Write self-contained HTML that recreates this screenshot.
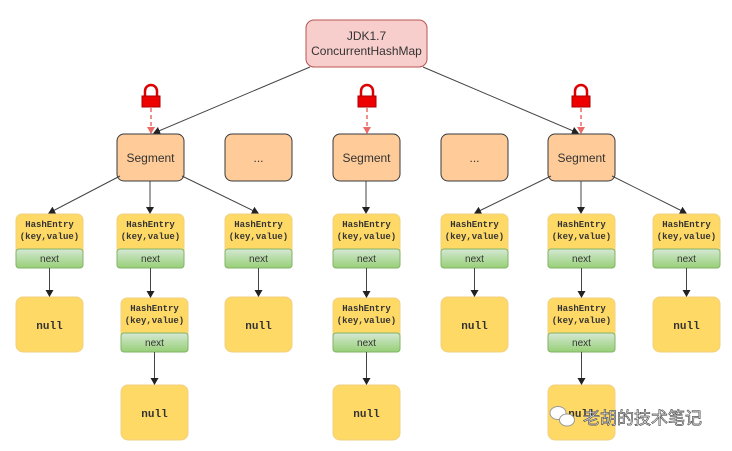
<!DOCTYPE html>
<html><head><meta charset="utf-8"><style>
html,body{margin:0;padding:0;background:#fff}
svg{display:block}
.t{font-family:"Liberation Sans",sans-serif;fill:#333}
.m{font-family:"Liberation Mono","DejaVu Sans Mono",monospace;font-weight:bold;fill:#333}
</style></head><body>
<svg width="732" height="451" viewBox="0 0 732 451" xmlns="http://www.w3.org/2000/svg">
<defs>
<marker id="a" markerWidth="8" markerHeight="8" refX="6" refY="4" orient="auto" markerUnits="userSpaceOnUse"><path d="M0,0 L7,4 L0,8 Z" fill="#222"/></marker>
<marker id="r" markerWidth="8" markerHeight="8" refX="6" refY="4" orient="auto" markerUnits="userSpaceOnUse"><path d="M0,0 L7,4 L0,8 Z" fill="#ea6b66"/></marker>
<linearGradient id="g" x1="0" y1="0" x2="0" y2="1"><stop offset="0" stop-color="#d5e8d4"/><stop offset="1" stop-color="#97d077"/></linearGradient>
<g id="lock"><path d="M-6,8 V3 A6,6 0 0 1 6,3 V8" fill="none" stroke="#d00" stroke-width="2.5"/><rect x="-9" y="8" width="18" height="11" fill="#e00" stroke="#a00"/></g>
<g id="he"><rect width="67" height="54" rx="6" fill="#ffd966" stroke="#f0d080"/><rect y="35" width="67" height="19" rx="3" fill="url(#g)" stroke="#82b366"/><text class="m" x="33.5" y="13" font-size="9" text-anchor="middle">HashEntry</text><text class="m" x="33.5" y="25" font-size="9" text-anchor="middle">(key,value)</text><text class="t" x="33.5" y="48" font-size="10" text-anchor="middle">next</text></g>
</defs>
<rect x="306" y="20" width="121" height="47" rx="8" fill="#f8cecc" stroke="#b85450"/>
<text class="t" x="366.5" y="40" font-size="12" text-anchor="middle">JDK1.7</text>
<text class="t" x="366.5" y="55" font-size="12" text-anchor="middle">ConcurrentHashMap</text>
<line x1="310" y1="67" x2="154" y2="133" stroke="#444" marker-end="url(#a)"/>
<line x1="423" y1="67" x2="578" y2="133" stroke="#444" marker-end="url(#a)"/>
<use href="#lock" x="151" y="88"/><use href="#lock" x="367" y="88"/><use href="#lock" x="581" y="88"/>
<g stroke="#ea6b66" stroke-dasharray="4,3" stroke-width="1.5" marker-end="url(#r)">
<line x1="151" y1="108" x2="151" y2="133"/><line x1="367" y1="108" x2="367" y2="133"/><line x1="581" y1="108" x2="581" y2="133"/></g>
<g fill="#ffcc99" stroke="#36393d">
<rect x="117" y="134" width="67" height="47" rx="7"/><rect x="225" y="134" width="67" height="47" rx="7"/>
<rect x="333" y="134" width="67" height="47" rx="7"/><rect x="441" y="134" width="67" height="47" rx="7"/>
<rect x="548" y="134" width="67" height="47" rx="7"/></g>
<g class="t" font-size="12" text-anchor="middle">
<text x="150.5" y="162">Segment</text><text x="258.5" y="162">...</text><text x="366.5" y="162">Segment</text><text x="474.5" y="162">...</text><text x="581.5" y="162">Segment</text></g>
<g stroke="#444" marker-end="url(#a)">
<line x1="120" y1="176" x2="49" y2="213"/><line x1="150" y1="181" x2="150" y2="213"/><line x1="182" y1="176" x2="258" y2="213"/>
<line x1="366" y1="181" x2="366" y2="213"/>
<line x1="551" y1="176" x2="475" y2="213"/><line x1="581" y1="181" x2="581" y2="213"/><line x1="612" y1="176" x2="686" y2="213"/>
</g>
<use href="#he" x="16" y="214"/><use href="#he" x="117" y="214"/><use href="#he" x="225" y="214"/><use href="#he" x="333" y="214"/>
<use href="#he" x="441" y="214"/><use href="#he" x="548" y="214"/><use href="#he" x="653" y="214"/>
<use href="#he" x="121" y="298"/><use href="#he" x="333" y="298"/><use href="#he" x="548" y="298"/>
<g fill="#ffd966" stroke="#f0d080">
<rect x="16" y="297" width="67" height="55" rx="7"/><rect x="225" y="297" width="67" height="55" rx="7"/>
<rect x="441" y="297" width="67" height="55" rx="7"/><rect x="653" y="297" width="67" height="55" rx="7"/>
<rect x="121" y="385" width="67" height="55" rx="7"/><rect x="333" y="385" width="67" height="55" rx="7"/><rect x="548" y="385" width="67" height="55" rx="7"/>
</g>
<g class="m" font-size="11" text-anchor="middle">
<text x="49.5" y="329">null</text><text x="258.5" y="329">null</text><text x="474.5" y="329">null</text><text x="686.5" y="329">null</text>
<text x="154.5" y="417">null</text><text x="366.5" y="417">null</text><text x="581.5" y="417">null</text></g>
<g stroke="#444" marker-end="url(#a)">
<line x1="49.5" y1="268" x2="49.5" y2="296"/><line x1="150.5" y1="268" x2="150.5" y2="297"/><line x1="258.5" y1="268" x2="258.5" y2="296"/>
<line x1="366.5" y1="268" x2="366.5" y2="297"/><line x1="474.5" y1="268" x2="474.5" y2="296"/><line x1="581.5" y1="268" x2="581.5" y2="297"/><line x1="686.5" y1="268" x2="686.5" y2="296"/>
<line x1="154.5" y1="352" x2="154.5" y2="384"/><line x1="366.5" y1="352" x2="366.5" y2="384"/><line x1="581.5" y1="352" x2="581.5" y2="384"/>
</g>
<g><ellipse cx="558" cy="413" rx="8" ry="6.5" fill="#fff" stroke="#999"/><ellipse cx="567" cy="420" rx="7.5" ry="6" fill="#fff" stroke="#999"/></g>
<text x="583" y="424" font-family="'Liberation Sans','Noto Sans CJK SC',sans-serif" font-size="17" fill="#fff" stroke="#555" stroke-width="0.7">老胡的技术笔记</text>
</svg>
</body></html>
